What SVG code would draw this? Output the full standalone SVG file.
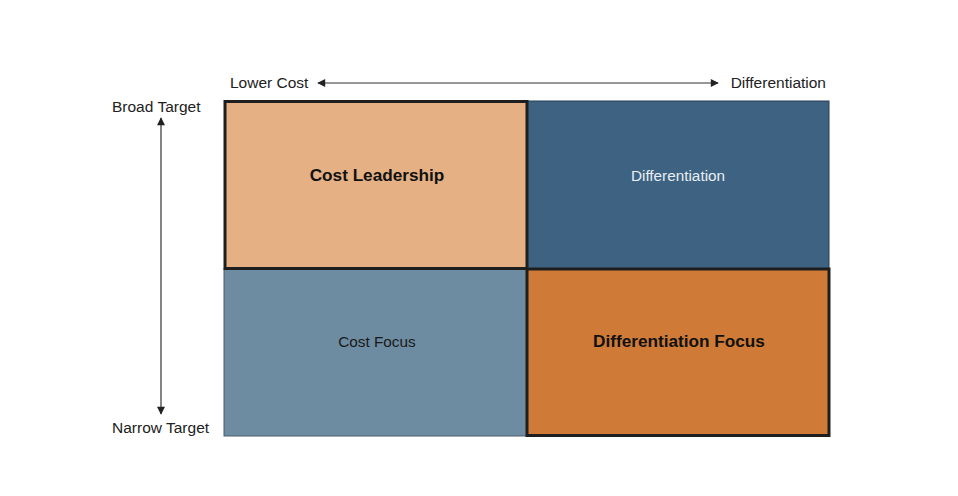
<svg xmlns="http://www.w3.org/2000/svg" width="958" height="496" viewBox="0 0 958 496">
<style>
.lbl{font-family:"Liberation Sans",Arial,sans-serif;font-size:15.5px;fill:#222}
.cell{font-family:"Liberation Sans",Arial,sans-serif;font-size:15.3px;text-anchor:middle}
.b{font-weight:bold;font-size:17.2px;fill:#111}
.ax{stroke:#333;stroke-width:1.2;fill:none}
</style>
<defs>
<marker id="ah" viewBox="0 0 10 10" refX="9" refY="5" markerWidth="10" markerHeight="8" markerUnits="userSpaceOnUse" orient="auto-start-reverse">
<path d="M0,0 L10,5 L0,10 z" fill="#222"/>
</marker>
</defs>
<rect width="958" height="496" fill="#fff"/>
<g id="diff">
<rect x="527" y="101" width="302" height="168" fill="#3D6282" stroke="#2a3f52" stroke-width="1"/>
<text class="cell" x="678" y="181" fill="#e8eef3">Differentiation</text>
</g>
<g id="costfocus">
<rect x="224" y="269" width="303" height="167" fill="#6D8BA1" stroke="#4a5c6a" stroke-width="1"/>
<text class="cell" x="377" y="347" fill="#1a1a1a">Cost Focus</text>
</g>
<g id="costlead">
<rect x="225" y="101.5" width="302" height="167" fill="#E4B084" stroke="#1e1e1e" stroke-width="3"/>
<text class="cell b" x="377" y="181">Cost Leadership</text>
</g>
<g id="difffocus">
<rect x="527" y="269" width="302" height="166.5" fill="#CF7B37" stroke="#1e1e1e" stroke-width="3"/>
<text class="cell b" x="679" y="347">Differentiation Focus</text>
</g>
<g id="connectors">
<line class="ax" x1="318" y1="83" x2="718" y2="83" marker-start="url(#ah)" marker-end="url(#ah)"/>
<line class="ax" x1="161" y1="118" x2="161" y2="414" marker-start="url(#ah)" marker-end="url(#ah)"/>
</g>
<g id="labels">
<text class="lbl" x="230" y="88">Lower Cost</text>
<text class="lbl" x="826" y="88" text-anchor="end">Differentiation</text>
<text class="lbl" x="112" y="112">Broad Target</text>
<text class="lbl" x="112" y="433">Narrow Target</text>
</g>
</svg>
